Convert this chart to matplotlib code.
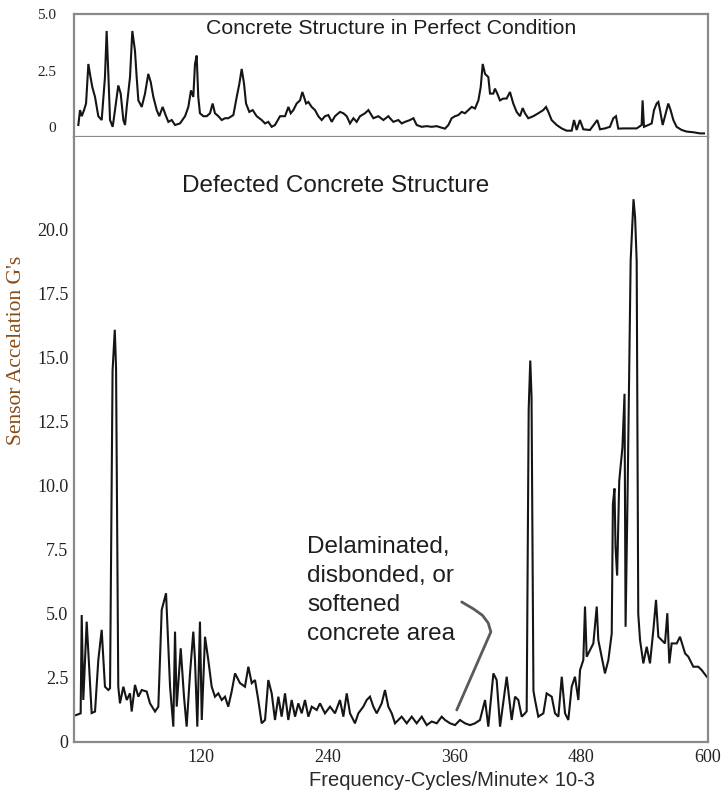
import matplotlib
matplotlib.use("Agg")
import matplotlib.pyplot as plt
import numpy as np

# ---------------- data ----------------
# Top panel: concrete structure in perfect condition (freq x1e-3 cpm, G's)
perfect_freq = [4.1, 5.7, 7.3, 9.5, 11.4, 13.6, 15.1, 17.3, 19.9, 23.0, 26.2, 29.3, 30.9, 32.5,
                34.1, 36.6, 38.8, 41.9, 44.2, 46.7, 48.3, 49.9, 53.0, 55.2, 57.7, 59.3, 60.9,
                64.1, 67.2, 70.3, 72.6, 75.1, 78.3, 80.7, 83.9, 87.1, 89.3, 92.5, 95.6, 100.3,
                105.1, 108.2, 110.7, 112.9, 114.5, 116.1, 117.6, 119.2, 122.4, 125.6, 128.7,
                131.2, 133.4, 136.6, 139.8, 142.9, 146.0, 150.8, 154.0, 156.5, 158.7, 160.9,
                162.8, 165.9, 169.1, 172.9, 177.6, 180.8, 183.9, 187.1, 190.2,
                195.0, 199.7, 202.9, 205.1, 207.6, 210.7, 213.9, 216.1, 217.7, 219.6, 221.8,
                224.9, 228.1, 231.2, 234.4, 237.5, 240.7, 243.9, 247.0, 251.7, 254.9, 258.1,
                261.2, 264.4, 267.5, 270.7, 275.4, 278.6, 283.3, 288.0, 292.8, 297.5, 299.1,
                302.2, 307.0, 310.1, 313.3, 318.0, 321.2, 324.3, 329.0, 333.8, 338.5, 343.2,
                348.0, 351.1, 354.3, 357.4, 360.6, 363.7, 366.9, 370.0, 373.2, 376.4, 379.5,
                382.7, 384.9, 386.8, 389.0, 392.1,
                393.7, 396.8, 398.4, 400.6, 403.1, 406.3, 409.4, 412.6, 415.7, 418.9, 422.1,
                424.6, 426.8, 429.9, 434.7, 439.4, 444.1, 446.7, 448.9, 452.0, 456.8, 461.5,
                466.2, 471.0, 473.2, 475.7, 478.8, 482.0, 488.3, 495.2, 497.8, 502.5, 507.2,
                510.4, 512.9, 515.1, 519.9, 526.2, 532.5, 537.2, 538.1, 539.4, 543.5, 546.7,
                548.9, 551.4, 553.0, 554.6, 557.1, 559.3, 562.4, 564.6, 567.2, 570.3, 575.1,
                579.8, 586.1, 592.4, 596.2]
perfect_acc = [0.09, 0.75, 0.48, 0.75, 1.04, 2.79, 2.35, 1.77, 1.33, 0.48, 0.31, 2.21, 4.25, 2.35,
               0.31, 0.01, 0.75, 1.84, 1.48, 0.31, 0.09, 0.89, 2.21, 4.25, 3.38, 2.21, 1.18,
               0.89, 1.48, 2.35, 1.99, 1.33, 0.75, 0.48, 0.89, 0.48, 0.23, 0.31, 0.09, 0.16,
               0.48, 0.89, 1.62, 1.33, 2.79, 3.16, 1.33, 0.61, 0.48, 0.48, 0.61,
               1.04, 0.61, 0.48, 0.31, 0.39, 0.39, 0.53, 1.33, 1.92, 2.57, 1.92,
               1.04, 0.67, 0.75, 0.48, 0.31, 0.16, 0.23, 0.01, 0.09,
               0.48, 0.48, 0.89, 0.61, 0.75, 1.04, 1.18, 1.55, 1.33, 1.04, 1.11,
               0.89, 0.75, 0.48, 0.31, 0.48, 0.53, 0.23, 0.48, 0.67, 0.61, 0.48,
               0.16, 0.39, 0.23, 0.48, 0.61, 0.75, 0.39, 0.48, 0.31, 0.48, 0.39,
               0.23, 0.31, 0.16, 0.23, 0.31, 0.39, 0.09, 0.01, 0.04, 0.01, 0.04,
               -0.03, -0.07, 0.09, 0.39, 0.48, 0.53, 0.67, 0.61, 0.75, 0.89, 0.82,
               1.18, 1.77, 2.79, 2.35, 2.21,
               1.48, 1.48, 1.70, 1.48, 1.18, 1.26, 1.26, 1.55, 1.04, 0.67, 0.48,
               0.84, 0.61, 0.39, 0.48, 0.61, 0.75, 0.89, 0.67, 0.31, 0.09, -0.06,
               -0.16, -0.16, 0.31, -0.13, 0.31, -0.10, -0.13, 0.31, -0.10, -0.06, 0.01,
               0.39, 0.48, -0.07, -0.06, -0.06, -0.06, 0.09, 1.18, 0.01, 0.09, 0.16,
               0.75, 1.04, 1.11, 0.75, 0.09, 0.48, 1.04, 0.75, 0.31, 0.01, -0.13,
               -0.20, -0.23, -0.28, -0.28]

# Bottom panel: defected concrete structure
defect_freq = [1.9, 6.3, 7.3, 8.8, 12.0, 16.7, 19.9, 23.0, 26.2, 29.3, 32.5, 34.1, 36.5, 38.6,
               39.8, 41.9, 43.5, 46.7, 49.9, 53.0, 54.6, 57.7, 60.9, 64.1, 68.8, 71.9, 76.7,
               79.8, 83.0, 87.1, 90.9, 94.0, 95.6, 97.2, 101.0, 104.1, 106.6, 109.8, 112.9,
               114.5, 116.7, 119.2, 120.9, 124.0, 127.1, 130.3, 133.4, 136.6, 139.8, 142.9,
               146.0, 149.2, 152.4, 157.1, 161.8, 165.0, 168.2, 171.3, 174.4, 177.6, 180.8,
               183.9, 187.1, 190.2,
               193.4, 196.5, 199.7, 202.8, 206.0, 209.2, 212.3, 215.5, 218.6, 221.8, 225.0,
               229.7, 232.8, 237.5, 242.3, 247.0, 251.7, 254.9, 258.1, 261.2, 265.9, 269.1,
               273.8, 277.0, 280.1, 283.3, 286.5, 291.2, 294.3, 297.5, 300.7, 303.8, 306.9,
               310.1, 314.9, 319.6, 324.3, 329.1, 333.8, 338.5, 343.3, 348.0, 351.1, 355.9,
               360.6, 365.3, 370.0, 374.8, 379.5,
               384.2, 389.0, 392.1, 396.9, 400.0, 403.2, 409.5, 414.2, 417.4, 420.5, 423.7,
               426.8, 428.4, 430.3, 431.8, 433.0, 434.8, 436.3, 439.4, 444.2, 447.3, 452.1,
               455.2, 458.4, 461.6, 464.7, 467.8, 471.0, 474.1, 477.3, 478.9, 482.0, 483.6,
               485.2, 488.4, 491.5, 494.7, 496.2, 499.4, 502.5, 505.7, 508.9, 510.0, 511.5,
               512.5, 514.0, 516.0, 519.0, 521.0, 522.0, 524.0, 526.8, 529.5, 531.0, 532.5,
               534.0, 535.7, 538.8, 542.0, 545.1, 548.3, 550.8, 553.0, 556.1, 559.3, 561.5,
               563.4, 565.6, 570.4, 573.5, 578.3, 581.4, 586.1, 590.8, 594.0, 598.8]
defect_acc = [1.05, 1.12, 4.96, 1.64, 4.70, 1.13, 1.19, 3.20, 4.38, 2.16, 2.03, 2.10, 14.5, 16.1,
              14.6, 2.16, 1.51, 2.16, 1.64, 1.90, 1.19, 2.23, 1.77, 2.03, 1.97, 1.51, 1.19,
              1.38, 5.16, 5.81, 2.16, 0.60, 4.31, 1.38, 3.66, 1.77, 0.60, 2.68, 4.31,
              3.20, 0.60, 4.70, 0.86, 4.11, 3.20, 2.16, 1.77, 1.90, 1.64, 1.77,
              1.38, 1.97, 2.68, 2.30, 2.16, 2.94, 2.30, 2.42, 1.64, 0.73, 0.86,
              2.42, 1.90, 0.86,
              1.77, 0.99, 1.90, 0.86, 1.64, 0.99, 1.51, 1.12, 1.64, 0.99, 1.38,
              1.25, 1.51, 1.12, 1.38, 1.12, 1.64, 0.99, 1.90, 1.12, 0.73, 1.12,
              1.38, 1.64, 1.77, 1.38, 1.12, 1.51, 2.03, 1.38, 1.12, 0.73, 0.86,
              0.99, 0.73, 0.99, 0.73, 0.99, 0.66, 0.80, 0.73, 0.99, 0.86, 0.73,
              0.66, 0.86, 0.73, 0.66, 0.73,
              0.86, 1.64, 0.60, 2.68, 2.42, 0.60, 2.55, 0.86, 1.77, 1.64, 0.99,
              1.12, 1.20, 13.0, 14.9, 13.5, 2.00, 1.64, 0.99, 1.12, 1.90, 1.77,
              1.12, 0.99, 2.55, 1.12, 0.86, 2.16, 2.55, 1.64, 2.81, 3.20, 5.29,
              3.33, 3.59, 3.85, 5.29, 3.98, 3.33, 2.68, 3.20, 4.24, 9.30, 9.90,
              7.60, 6.50, 10.2, 11.5, 13.6, 4.50, 10.0, 18.8, 21.2, 20.5, 18.8,
              5.00, 3.98, 3.07, 3.72, 3.07, 4.38, 5.55, 4.11, 3.98, 3.85, 5.03,
              3.07, 3.85, 3.85, 4.11, 3.46, 3.33, 2.94, 2.94, 2.81, 2.55]

top_ticks = [0, 2.5, 5.0]
top_ticklabels = ["0", "2.5", "5.0"]
bottom_yticks = [0, 2.5, 5.0, 7.5, 10.0, 12.5, 15.0, 17.5, 20.0]
bottom_yticklabels = ["0", "2.5", "5.0", "7.5", "10.0", "12.5", "15.0", "17.5", "20.0"]
xticks = [120, 240, 360, 480, 600]
xticklabels = ["120", "240", "360", "480", "600"]

# ---------------- figure ----------------
W, H = 723, 793
fig = plt.figure(figsize=(W / 100, H / 100), dpi=100)

def px_axes(x0, y0, x1, y1):
    return fig.add_axes([x0 / W, 1 - y1 / H, (x1 - x0) / W, (y1 - y0) / H])

ax_top = px_axes(74, 14, 708, 137)
ax_bot = px_axes(74, 137, 708, 742)

serif = ["Liberation Serif", "DejaVu Serif"]
sans = ["Liberation Sans", "DejaVu Sans"]
spine_col = "#8a8a8a"
line_col = "#151515"

for ax in (ax_top, ax_bot):
    ax.set_xlim(0, 600)
    for s in ax.spines.values():
        s.set_color(spine_col)
        s.set_linewidth(1.6)
    ax.tick_params(length=0)

ax_top.plot(perfect_freq, perfect_acc, color=line_col, lw=1.5, solid_joinstyle="miter")
ax_top.set_ylim(-0.44, 5.0)
ax_top.set_yticks(top_ticks)
ax_top.set_yticklabels(top_ticklabels, fontfamily=serif, fontsize=11, color="#222222")
ax_top.tick_params(axis="y", pad=13)
ax_top.set_xticks([])

ax_bot.plot(defect_freq, defect_acc, color=line_col, lw=1.5, solid_joinstyle="miter")
ax_bot.set_ylim(0, 23.63)
ax_bot.set_yticks(bottom_yticks)
ax_bot.set_yticklabels(bottom_yticklabels, fontfamily=serif, fontsize=13, color="#222222")
ax_bot.set_xticks(xticks)
ax_bot.set_xticklabels(xticklabels, fontfamily=serif, fontsize=13, color="#222222")
ax_bot.tick_params(axis="y", pad=4)
ax_bot.tick_params(axis="x", pad=5)
ax_bot.spines["top"].set_visible(False)

# titles and labels
fig.text(391 / W, 1 - 28 / H, "Concrete Structure in Perfect Condition",
         fontfamily=sans, fontsize=15.3, color="#1e1e1e", ha="center", va="center")
fig.text(336 / W, 1 - 186 / H, "Defected Concrete Structure",
         fontfamily=sans, fontsize=17.5, color="#1e1e1e", ha="center", va="center")
fig.text(307 / W, 1 - 536 / H, "Delaminated,\ndisbonded, or\nsoftened\nconcrete area",
         fontfamily=sans, fontsize=17.5, color="#1e1e1e", ha="left", va="top",
         linespacing=1.42)
fig.text(452 / W, 1 - 780 / H, "Frequency-Cycles/Minute\u00d7 10-3",
         fontfamily=sans, fontsize=14.5, color="#2a2a2a", ha="center", va="center")
fig.text(17 / W, 1 - 350 / H, "Sensor Accelation G's",
         fontfamily=serif, fontsize=15.5, color="#8a4b16", ha="center", va="center",
         rotation=90)

# bracket pointing at the low-amplitude (defect) region
bracket_x = [366.9, 378.0, 386.5, 392.0, 394.5, 362.2]
bracket_y = [5.47, 5.20, 4.95, 4.65, 4.30, 1.25]
ax_bot.plot(bracket_x, bracket_y, color="#5a5a5a", lw=2.0, solid_capstyle="round",
            solid_joinstyle="round")

fig.savefig("out.png", dpi=100)
